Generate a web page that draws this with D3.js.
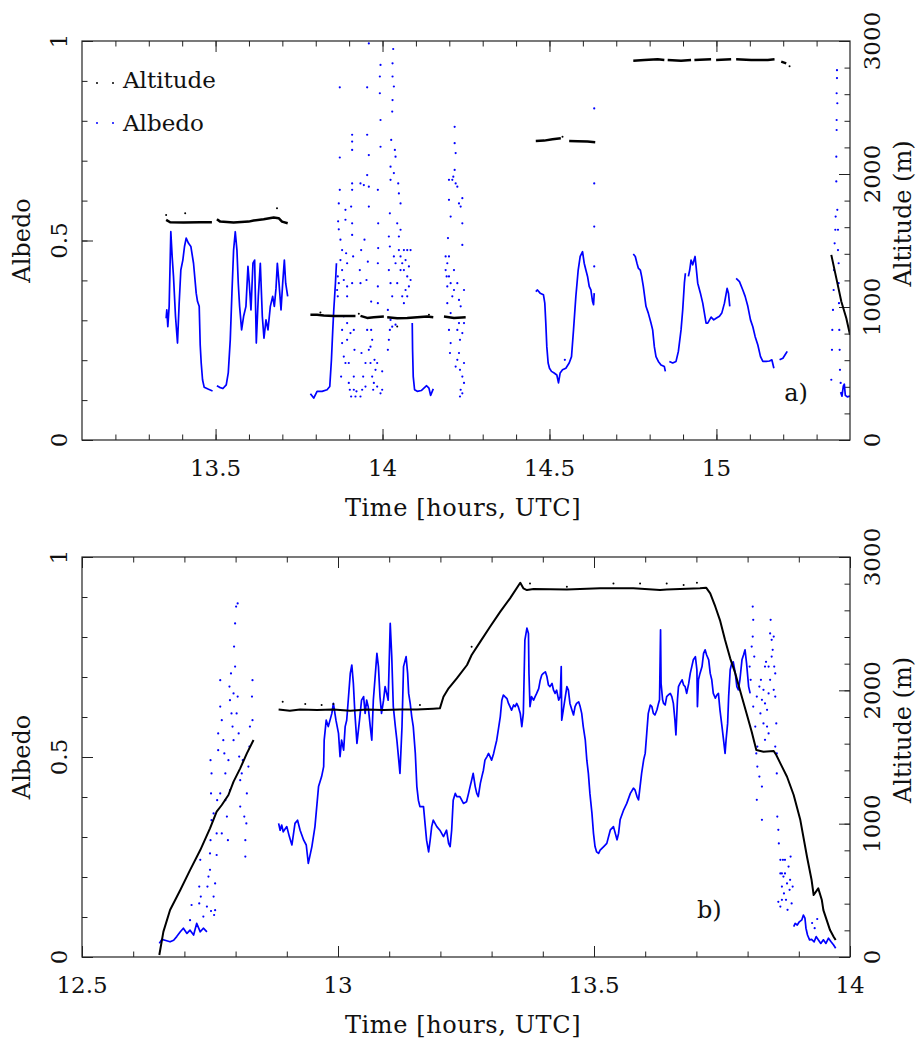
<!DOCTYPE html>
<html>
<head>
<meta charset="utf-8">
<script src="https://cdn.jsdelivr.net/npm/d3@7"></script>
<style>
  body { margin: 0; background: #fff; }
</style>
</head>
<body>
<svg id="chart" width="917" height="1040" font-family="'DejaVu Serif', serif"></svg>
<script>
// ---------- panel a) data : [time (h UTC), value] ----------
var altA = [
  [[13.352,1655],[13.364,1637],[13.404,1635],[13.454,1637],[13.489,1637]],
  [[13.504,1660],[13.514,1642],[13.554,1635],[13.599,1642],[13.614,1650],[13.644,1660],[13.674,1673],[13.689,1668],[13.699,1642],[13.716,1630]],
  [[13.784,941],[13.804,941],[13.824,936],[13.854,933],[13.884,933],[13.919,933]],
  [[13.934,933],[13.954,918],[13.974,923],[14.004,928]],
  [[14.014,923],[14.044,916],[14.074,918],[14.104,923],[14.134,928],[14.152,923]],
  [[14.184,928],[14.214,918],[14.249,923]],
  [[14.459,2248],[14.484,2251],[14.509,2261],[14.534,2269]],
  [[14.559,2248],[14.584,2246],[14.614,2244],[14.637,2239]],
  [[14.751,2852],[14.784,2857],[14.824,2862],[14.844,2857]],
  [[14.854,2857],[14.894,2852],[14.924,2857]],
  [[14.934,2857],[14.984,2862]],
  [[14.999,2857],[15.044,2862]],
  [[15.059,2862],[15.104,2857],[15.154,2857],[15.174,2862]],
  [[15.194,2845],[15.209,2832]]
];
var altDescentA = [[15.344,1392],[15.359,1217],[15.374,1041],[15.389,916],[15.400,791]];
var altDotsA = [[13.352,1692],[13.409,1705],[13.684,1743],[13.814,958],[13.929,949],[14.139,941],[14.044,853],[14.539,2281],[15.219,2810]];

var albA = [
  [[13.352,0.305],[13.354,0.326],[13.357,0.284],[13.361,0.335],[13.366,0.522],[13.370,0.460],[13.374,0.410],[13.380,0.310],[13.386,0.243],[13.391,0.343],[13.396,0.426],[13.402,0.451],[13.407,0.485],[13.412,0.506],[13.419,0.493],[13.426,0.485],[13.434,0.443],[13.442,0.368],[13.446,0.347],[13.451,0.335],[13.454,0.238],[13.457,0.193],[13.461,0.151],[13.466,0.132],[13.479,0.127],[13.491,0.123]],
  [[13.504,0.136],[13.512,0.132],[13.522,0.129],[13.532,0.138],[13.538,0.168],[13.544,0.251],[13.549,0.368],[13.554,0.476],[13.559,0.522],[13.564,0.476],[13.568,0.393],[13.572,0.335],[13.578,0.276],[13.584,0.310],[13.591,0.335],[13.597,0.435],[13.601,0.393],[13.606,0.326],[13.612,0.443],[13.617,0.451],[13.622,0.243],[13.628,0.360],[13.634,0.443],[13.640,0.310],[13.645,0.255],[13.651,0.301],[13.657,0.276],[13.664,0.335],[13.671,0.360],[13.676,0.335],[13.681,0.380],[13.685,0.443],[13.690,0.393],[13.696,0.326],[13.701,0.393],[13.706,0.451],[13.710,0.393],[13.716,0.360]],
  [[13.784,0.116],[13.794,0.105],[13.804,0.122],[13.819,0.122],[13.834,0.126],[13.842,0.134],[13.847,0.201],[13.851,0.276],[13.854,0.326],[13.859,0.393],[13.862,0.443]],
  [[14.089,0.293],[14.090,0.226],[14.092,0.159],[14.096,0.126],[14.104,0.122],[14.116,0.124],[14.124,0.130],[14.132,0.136],[14.139,0.130],[14.144,0.112],[14.152,0.128]],
  [[14.459,0.372],[14.464,0.376],[14.472,0.368],[14.482,0.364],[14.486,0.343],[14.489,0.293],[14.492,0.234],[14.496,0.193],[14.500,0.180],[14.506,0.172],[14.514,0.168],[14.522,0.163],[14.527,0.143],[14.532,0.168],[14.539,0.176],[14.549,0.180],[14.559,0.193],[14.566,0.209],[14.572,0.276],[14.579,0.360],[14.586,0.426],[14.592,0.460],[14.599,0.472],[14.604,0.443],[14.609,0.426],[14.614,0.410],[14.619,0.385],[14.624,0.376],[14.629,0.347],[14.632,0.339],[14.634,0.368]],
  [[14.751,0.466],[14.757,0.460],[14.762,0.443],[14.766,0.431],[14.772,0.426],[14.776,0.410],[14.781,0.385],[14.789,0.335],[14.796,0.318],[14.804,0.293],[14.809,0.276],[14.814,0.234],[14.819,0.209],[14.826,0.197],[14.834,0.188],[14.844,0.184],[14.847,0.172]],
  [[14.859,0.197],[14.869,0.193],[14.879,0.197],[14.886,0.222],[14.894,0.276],[14.899,0.326],[14.904,0.393],[14.907,0.418]],
  [[14.916,0.410],[14.920,0.426],[14.924,0.451],[14.929,0.439],[14.936,0.460],[14.939,0.435],[14.944,0.393],[14.952,0.368],[14.959,0.343],[14.964,0.318],[14.969,0.293],[14.974,0.293],[14.984,0.308],[14.992,0.301],[14.999,0.305],[15.009,0.310],[15.016,0.318],[15.024,0.343],[15.032,0.380],[15.036,0.368],[15.040,0.335]],
  [[15.059,0.405],[15.069,0.397],[15.079,0.376],[15.086,0.360],[15.094,0.335],[15.102,0.301],[15.109,0.284],[15.116,0.259],[15.124,0.238],[15.132,0.209],[15.139,0.197],[15.149,0.197],[15.159,0.198],[15.166,0.201],[15.172,0.180]],
  [[15.189,0.201],[15.199,0.205],[15.209,0.218],[15.212,0.222]],
  [[15.372,0.120],[15.376,0.110],[15.380,0.135],[15.383,0.140],[15.386,0.112],[15.392,0.108],[15.400,0.110]]
];
var albDotsA = [
  // cloud 13.86-13.92
  [13.872,0.884],[13.872,0.708],[13.872,0.627],[13.869,0.593],[13.867,0.548],[13.869,0.528],[13.874,0.502],[13.879,0.476],[13.866,0.410],[13.869,0.393],[13.864,0.376],[13.866,0.360],[13.874,0.451],[13.879,0.426],[13.884,0.401],[13.889,0.577],[13.889,0.552],[13.891,0.468],[13.894,0.443],[13.894,0.385],[13.894,0.360],[13.909,0.765],[13.909,0.748],[13.909,0.727],[13.909,0.643],[13.909,0.627],[13.906,0.585],[13.909,0.543],[13.909,0.514],[13.912,0.460],[13.909,0.393],[13.879,0.276],[13.879,0.243],[13.884,0.209],[13.889,0.193],[13.876,0.159],[13.894,0.251],[13.899,0.193],[13.902,0.126],[13.906,0.109],[13.914,0.126],[13.914,0.159],[13.919,0.109],[13.894,0.293],[13.904,0.268],[13.914,0.276],[13.916,0.226],[13.884,0.310],[13.899,0.143],[13.922,0.122],
  // cloud 13.93-14.00
  [13.959,0.994],[13.954,0.884],[13.954,0.765],[13.959,0.714],[13.954,0.664],[13.959,0.635],[13.944,0.639],[13.934,0.643],[13.959,0.585],[13.946,0.502],[13.936,0.476],[13.956,0.447],[13.952,0.401],[13.932,0.426],[13.934,0.393],[13.986,0.627],[13.987,0.543],[13.987,0.481],[13.986,0.443],[13.986,0.385],[13.986,0.343],[13.966,0.347],[13.966,0.276],[13.969,0.251],[13.959,0.226],[13.964,0.193],[13.969,0.159],[13.974,0.143],[13.979,0.176],[13.984,0.193],[13.949,0.193],[13.942,0.159],[13.939,0.126],[13.949,0.134],[13.937,0.218],[13.934,0.109],[13.994,0.117],[13.999,0.126],[13.999,0.172],[13.994,0.940],[13.992,0.911],[13.992,0.869],[13.994,0.802],[13.994,0.735],[13.972,0.126],[13.954,0.276],[13.964,0.234],[13.984,0.134],[13.976,0.201],
  // cloud 14.01-14.09
  [14.032,0.980],[14.030,0.944],[14.030,0.911],[14.034,0.886],[14.030,0.852],[14.029,0.823],[14.026,0.752],[14.037,0.727],[14.039,0.710],[14.024,0.685],[14.034,0.669],[14.047,0.643],[14.024,0.652],[14.049,0.618],[14.054,0.593],[14.022,0.568],[14.044,0.543],[14.054,0.527],[14.049,0.510],[14.019,0.510],[14.022,0.485],[14.034,0.460],[14.039,0.443],[14.049,0.476],[14.054,0.460],[14.064,0.476],[14.074,0.476],[14.084,0.476],[14.054,0.426],[14.064,0.426],[14.074,0.410],[14.084,0.401],[14.079,0.385],[14.069,0.376],[14.059,0.360],[14.074,0.360],[14.064,0.343],[14.019,0.426],[14.024,0.393],[14.029,0.360],[14.016,0.326],[14.022,0.276],[14.019,0.251],[14.016,0.226],[14.029,0.284],[14.039,0.289],[14.024,0.301],[14.044,0.393],[14.059,0.443],[14.069,0.451],[14.079,0.435],
  // cloud 14.19-14.25
  [14.216,0.785],[14.216,0.744],[14.219,0.719],[14.216,0.677],[14.212,0.660],[14.209,0.652],[14.219,0.643],[14.224,0.635],[14.199,0.652],[14.199,0.602],[14.204,0.560],[14.196,0.506],[14.239,0.606],[14.229,0.593],[14.234,0.585],[14.239,0.543],[14.239,0.489],[14.189,0.460],[14.194,0.443],[14.199,0.410],[14.189,0.426],[14.204,0.393],[14.214,0.376],[14.224,0.393],[14.229,0.351],[14.234,0.335],[14.244,0.376],[14.209,0.360],[14.194,0.343],[14.204,0.318],[14.199,0.276],[14.204,0.243],[14.224,0.276],[14.232,0.251],[14.239,0.268],[14.202,0.218],[14.229,0.218],[14.224,0.201],[14.219,0.184],[14.232,0.176],[14.239,0.159],[14.244,0.143],[14.234,0.126],[14.232,0.109],[14.239,0.117],[14.244,0.193],[14.194,0.385],[14.214,0.426],[14.199,0.460],[14.229,0.293],[14.244,0.293],[14.192,0.410],
  // isolated
  [14.634,0.831],[14.634,0.643],[14.634,0.535],[14.634,0.435],[14.546,0.201],
  // burst near 15.35
  [15.344,0.151],[15.346,0.226],[15.347,0.276],[15.349,0.326],[15.351,0.376],[15.352,0.426],[15.354,0.493],[15.356,0.527],[15.357,0.560],[15.359,0.648],[15.359,0.710],[15.360,0.777],[15.360,0.802],[15.360,0.869],[15.361,0.907],[15.361,0.927],[15.362,0.844],[15.362,0.577],[15.364,0.527],[15.364,0.476],[15.366,0.443],[15.366,0.393],[15.367,0.343],[15.368,0.276],[15.369,0.226],[15.370,0.176],[15.372,0.143]
];

// ---------- panel b) data ----------
var altB = [
  [[12.651,15],[12.659,190],[12.672,352],[12.692,502],[12.711,652],[12.731,802],[12.750,965],[12.763,1090],[12.773,1140],[12.786,1215],[12.796,1315],[12.809,1415],[12.822,1527],[12.835,1627]],
  [[12.884,1857],[12.906,1847],[12.926,1857],[12.959,1852],[12.991,1857],[13.024,1847],[13.056,1857],[13.089,1852],[13.121,1857],[13.154,1857],[13.186,1862],[13.199,1865],[13.206,1952],[13.216,2015],[13.232,2090],[13.252,2190],[13.261,2265],[13.278,2365],[13.297,2477],[13.317,2590],[13.336,2690],[13.356,2807],[13.362,2765],[13.369,2752],[13.382,2760],[13.447,2757],[13.512,2765],[13.577,2765],[13.629,2752],[13.642,2757],[13.707,2765],[13.719,2770],[13.727,2727],[13.737,2627],[13.746,2527],[13.756,2377],[13.766,2240],[13.776,2127],[13.785,2002],[13.798,1827],[13.808,1690],[13.817,1552],[13.831,1540],[13.851,1545],[13.856,1515],[13.864,1452],[13.877,1352],[13.890,1215],[13.903,1027],[13.916,752],[13.925,577],[13.929,465],[13.938,515],[13.945,427],[13.948,352],[13.961,202],[13.968,152],[13.972,127]]
];
var altDotsB = [[12.892,1915],[12.936,1897],[12.968,1890],[12.991,1897],[13.160,1890],[13.261,2327],[13.375,2802],[13.447,2777],[13.538,2802],[13.590,2802],[13.642,2802],[13.675,2790],[13.701,2807]];

var albB = [
  [[12.651,0.034],[12.656,0.044],[12.662,0.042],[12.672,0.038],[12.679,0.042],[12.685,0.051],[12.692,0.063],[12.698,0.072],[12.705,0.059],[12.711,0.067],[12.718,0.055],[12.724,0.084],[12.731,0.063],[12.737,0.072],[12.744,0.063]],
  [[12.884,0.334],[12.887,0.317],[12.890,0.330],[12.893,0.313],[12.900,0.326],[12.905,0.301],[12.910,0.280],[12.916,0.334],[12.921,0.342],[12.926,0.317],[12.933,0.292],[12.938,0.280],[12.942,0.234],[12.949,0.276],[12.955,0.326],[12.962,0.426],[12.968,0.451],[12.972,0.476],[12.973,0.542],[12.977,0.592],[12.981,0.576],[12.988,0.609],[12.991,0.634],[12.996,0.592],[13.001,0.559],[13.004,0.501],[13.007,0.542],[13.011,0.517],[13.014,0.576],[13.017,0.592],[13.020,0.642],[13.024,0.709],[13.027,0.730],[13.030,0.684],[13.033,0.609],[13.037,0.534],[13.042,0.592],[13.046,0.642],[13.050,0.651],[13.053,0.609],[13.056,0.642],[13.059,0.626],[13.063,0.576],[13.066,0.542],[13.069,0.642],[13.072,0.692],[13.076,0.759],[13.079,0.726],[13.082,0.651],[13.085,0.609],[13.089,0.642],[13.092,0.676],[13.095,0.659],[13.098,0.642],[13.102,0.834],[13.105,0.751],[13.108,0.626],[13.112,0.576],[13.115,0.542],[13.118,0.501],[13.121,0.459],[13.125,0.576],[13.128,0.726],[13.133,0.751],[13.136,0.709],[13.138,0.659],[13.141,0.634],[13.144,0.601],[13.147,0.576],[13.151,0.509],[13.154,0.426],[13.157,0.392],[13.160,0.376],[13.167,0.376],[13.170,0.334],[13.173,0.292],[13.177,0.263],[13.180,0.292],[13.183,0.326],[13.186,0.342],[13.193,0.326],[13.199,0.317],[13.206,0.301],[13.212,0.317],[13.216,0.284],[13.219,0.276],[13.222,0.317],[13.225,0.392],[13.229,0.409],[13.232,0.401],[13.238,0.401],[13.245,0.384],[13.251,0.388],[13.255,0.409],[13.258,0.426],[13.261,0.442],[13.264,0.459],[13.268,0.426],[13.271,0.409],[13.274,0.401],[13.278,0.434],[13.281,0.451],[13.284,0.467],[13.287,0.492],[13.291,0.501],[13.294,0.509],[13.297,0.501],[13.300,0.492],[13.304,0.509],[13.307,0.526],[13.310,0.542],[13.313,0.567],[13.317,0.601],[13.320,0.642],[13.323,0.655],[13.326,0.651],[13.330,0.646],[13.333,0.634],[13.336,0.626],[13.339,0.617],[13.343,0.630],[13.346,0.626],[13.349,0.634],[13.352,0.626],[13.356,0.609],[13.359,0.576],[13.362,0.609],[13.365,0.792],[13.369,0.822],[13.372,0.809],[13.373,0.709],[13.375,0.626],[13.378,0.651],[13.382,0.642],[13.385,0.651],[13.388,0.659],[13.392,0.671],[13.395,0.692],[13.398,0.705],[13.401,0.709],[13.405,0.713],[13.408,0.701],[13.411,0.680],[13.414,0.676],[13.418,0.684],[13.421,0.667],[13.424,0.659],[13.427,0.667],[13.431,0.642],[13.434,0.651],[13.436,0.726],[13.437,0.592],[13.440,0.617],[13.444,0.651],[13.447,0.676],[13.450,0.667],[13.453,0.634],[13.457,0.617],[13.460,0.605],[13.463,0.626],[13.466,0.634],[13.470,0.638],[13.473,0.626],[13.476,0.609],[13.479,0.576],[13.483,0.542],[13.486,0.492],[13.489,0.459],[13.492,0.409],[13.496,0.359],[13.499,0.309],[13.502,0.276],[13.505,0.263],[13.509,0.259],[13.512,0.267],[13.519,0.276],[13.525,0.284],[13.532,0.318],[13.538,0.326],[13.545,0.293],[13.548,0.309],[13.551,0.343],[13.558,0.368],[13.564,0.384],[13.571,0.409],[13.577,0.422],[13.580,0.418],[13.584,0.401],[13.587,0.393],[13.590,0.426],[13.593,0.459],[13.597,0.493],[13.600,0.509],[13.603,0.559],[13.606,0.609],[13.610,0.630],[13.613,0.626],[13.616,0.609],[13.619,0.605],[13.623,0.618],[13.626,0.634],[13.628,0.643],[13.630,0.818],[13.631,0.684],[13.634,0.643],[13.636,0.634],[13.639,0.630],[13.642,0.651],[13.645,0.655],[13.649,0.659],[13.652,0.651],[13.655,0.634],[13.658,0.593],[13.660,0.555],[13.663,0.643],[13.665,0.676],[13.668,0.684],[13.672,0.693],[13.675,0.680],[13.678,0.676],[13.681,0.659],[13.685,0.684],[13.688,0.709],[13.691,0.726],[13.694,0.743],[13.698,0.751],[13.701,0.718],[13.702,0.626],[13.704,0.693],[13.707,0.709],[13.711,0.726],[13.714,0.759],[13.717,0.768],[13.720,0.755],[13.724,0.743],[13.727,0.709],[13.730,0.693],[13.733,0.659],[13.737,0.647],[13.740,0.655],[13.743,0.659],[13.746,0.618],[13.750,0.576],[13.753,0.543],[13.756,0.509],[13.758,0.543],[13.761,0.584],[13.763,0.651],[13.766,0.718],[13.769,0.734],[13.772,0.738],[13.776,0.709],[13.779,0.676],[13.782,0.668],[13.785,0.693],[13.789,0.743],[13.792,0.755],[13.795,0.768],[13.798,0.734],[13.802,0.676],[13.805,0.659]],
  [[13.890,0.076],[13.893,0.084],[13.897,0.080],[13.901,0.088],[13.906,0.093],[13.909,0.105],[13.912,0.097],[13.914,0.072],[13.917,0.055],[13.921,0.043],[13.925,0.044],[13.930,0.038],[13.934,0.051],[13.938,0.043],[13.943,0.034],[13.948,0.043],[13.953,0.034],[13.958,0.047],[13.963,0.038],[13.968,0.030],[13.972,0.022]]
];
var albDotsB = [
  // climb cloud 12.71-12.84
  [12.711,0.092],[12.714,0.130],[12.729,0.176],[12.729,0.134],[12.731,0.243],[12.732,0.151],[12.745,0.176],[12.747,0.201],[12.750,0.218],[12.750,0.259],[12.751,0.292],[12.753,0.342],[12.752,0.409],[12.753,0.459],[12.751,0.492],[12.757,0.151],[12.760,0.117],[12.760,0.184],[12.763,0.255],[12.763,0.309],[12.764,0.392],[12.766,0.517],[12.766,0.559],[12.770,0.626],[12.770,0.692],[12.773,0.592],[12.776,0.542],[12.778,0.509],[12.780,0.459],[12.780,0.392],[12.783,0.351],[12.785,0.292],[12.786,0.492],[12.788,0.676],[12.789,0.642],[12.791,0.709],[12.792,0.609],[12.794,0.576],[12.796,0.542],[12.797,0.776],[12.799,0.834],[12.801,0.876],[12.804,0.884],[12.799,0.726],[12.804,0.651],[12.806,0.559],[12.807,0.501],[12.809,0.442],[12.809,0.376],[12.812,0.459],[12.814,0.492],[12.817,0.351],[12.819,0.292],[12.819,0.251],[12.821,0.334],[12.822,0.409],[12.825,0.476],[12.827,0.526],[12.828,0.576],[12.832,0.651],[12.833,0.692],[12.833,0.592],[12.796,0.659],[12.802,0.609],[12.770,0.409],[12.773,0.309],[12.789,0.417],[12.757,0.359],[12.744,0.126],[12.737,0.101],[12.752,0.115],[12.758,0.105],
  // scattered 13.80-13.86
  [13.810,0.876],[13.811,0.843],[13.808,0.776],[13.813,0.751],[13.804,0.726],[13.806,0.693],[13.811,0.626],[13.818,0.651],[13.825,0.609],[13.828,0.643],[13.831,0.668],[13.834,0.634],[13.838,0.618],[13.841,0.659],[13.844,0.693],[13.844,0.809],[13.845,0.843],[13.847,0.793],[13.849,0.768],[13.851,0.801],[13.847,0.751],[13.852,0.726],[13.854,0.709],[13.851,0.668],[13.856,0.584],[13.854,0.526],[13.857,0.509],[13.819,0.526],[13.817,0.509],[13.819,0.476],[13.823,0.451],[13.818,0.393],[13.828,0.426],[13.828,0.343],[13.815,0.576],[13.831,0.584],[13.838,0.576],[13.834,0.543],[13.841,0.559],[13.826,0.693],[13.823,0.676],[13.810,0.801],[13.836,0.738],[13.834,0.726],[13.841,0.726],[13.857,0.459],[13.854,0.651],
  // descent 13.86-13.89
  [13.858,0.351],[13.860,0.318],[13.861,0.284],[13.864,0.243],[13.864,0.209],[13.867,0.176],[13.869,0.243],[13.870,0.201],[13.871,0.159],[13.873,0.209],[13.875,0.143],[13.877,0.184],[13.880,0.226],[13.882,0.168],[13.883,0.193],[13.884,0.251],[13.886,0.134],[13.888,0.176],[13.864,0.126],[13.867,0.143],[13.878,0.118],[13.860,0.138],[13.867,0.209],[13.873,0.243],[13.926,0.085],[13.931,0.072],[13.936,0.095]
];

// ---------- layout / ticks ----------
var panels = [
  {name: "a)", xDomain: [13.1, 15.4], top: 41, bottom: 440,
   xMajor: [13.5, 14, 14.5, 15], xLabels: ["13.5", "14", "14.5", "15"],
   alt: altA, altDots: altDotsA, altLine: altDescentA, alb: albA, albDots: albDotsA, tag: [15.203, 0.098]},
  {name: "b)", xDomain: [12.5, 14], top: 557, bottom: 957,
   xMajor: [12.5, 13, 13.5, 14], xLabels: ["12.5", "13", "13.5", "14"],
   alt: altB, altDots: altDotsB, altLine: null, alb: albB, albDots: albDotsB, tag: [13.701, 0.0975]}
];
var albedoMajor = [0, 0.5, 1], albedoLabels = ["0", "0.5", "1"];
var altMajor = [0, 1000, 2000, 3000], altLabels = ["0", "1000", "2000", "3000"];

var left = 82, right = 850;
var font = "'DejaVu Serif', serif";
var svg = d3.select("#chart");
svg.append("rect").attr("width", 917).attr("height", 1040).attr("fill", "#fff");

panels.forEach(function(p, i) {
    var x = d3.scaleLinear().domain(p.xDomain).range([left, right]);
    var y = d3.scaleLinear().domain([0, 1]).range([p.bottom, p.top]);
    var yAlt = d3.scaleLinear().domain([0, 3000]).range([p.bottom, p.top]);
    var h = p.bottom - p.top;
    var g = svg.append("g").attr("font-family", font).attr("fill", "#111");

    var clipId = "clip" + i;
    svg.append("clipPath").attr("id", clipId).append("rect")
        .attr("x", left).attr("y", p.top).attr("width", right - left).attr("height", h);

    // ticks, all pointing inward (minor 0.1 h / 0.1 / 200 m)
    var xMinor = d3.range(Math.round(p.xDomain[0] * 10) + 1, Math.round(p.xDomain[1] * 10)).map(function(d) { return d / 10; });
    var axes = [
        [d3.axisBottom(x).tickValues(xMinor).tickSize(-5.5), "translate(0," + p.bottom + ")"],
        [d3.axisBottom(x).tickValues(p.xMajor).tickSize(-11), "translate(0," + p.bottom + ")"],
        [d3.axisTop(x).tickValues(xMinor).tickSize(-5.5), "translate(0," + p.top + ")"],
        [d3.axisTop(x).tickValues(p.xMajor).tickSize(-11), "translate(0," + p.top + ")"],
        [d3.axisLeft(y).tickValues(d3.range(1, 10).map(function(d) { return d / 10; })).tickSize(-5.5), "translate(" + left + ",0)"],
        [d3.axisLeft(y).tickValues(albedoMajor).tickSize(-11), "translate(" + left + ",0)"],
        [d3.axisRight(yAlt).tickValues(d3.range(200, 3000, 200)).tickSize(-5.5), "translate(" + right + ",0)"],
        [d3.axisRight(yAlt).tickValues(altMajor).tickSize(-11), "translate(" + right + ",0)"]
    ];
    axes.forEach(function(a) {
        var ax = g.append("g").attr("transform", a[1])
            .call(a[0].tickFormat("").tickSizeOuter(0));
        ax.select(".domain").remove();
        ax.selectAll("line").attr("stroke", "#222").attr("stroke-width", 1);
    });

    var plot = g.append("g").attr("clip-path", "url(#" + clipId + ")");

    var lineAlb = d3.line().x(function(d) { return x(d[0]); }).y(function(d) { return y(d[1]); });
    var lineAlt = d3.line().x(function(d) { return x(d[0]); }).y(function(d) { return yAlt(d[1]); });

    // albedo (blue)
    plot.selectAll(".alb").data(p.alb).enter().append("path")
        .attr("d", lineAlb).attr("fill", "none")
        .attr("stroke", "#0000ff").attr("stroke-width", 1.7).attr("stroke-linejoin", "round");
    plot.selectAll(".albdot").data(p.albDots).enter().append("circle")
        .attr("cx", function(d) { return x(d[0]); })
        .attr("cy", function(d) { return y(d[1]); })
        .attr("r", 1.1).attr("fill", "#0000ff");

    // altitude (black)
    plot.selectAll(".alt").data(p.alt).enter().append("path")
        .attr("d", lineAlt).attr("fill", "none")
        .attr("stroke", "#000").attr("stroke-width", i === 0 ? 2.5 : 2)
        .attr("stroke-linejoin", "round");
    if (p.altLine) {
        plot.append("path").datum(p.altLine).attr("d", lineAlt)
            .attr("fill", "none").attr("stroke", "#000").attr("stroke-width", 2);
    }
    plot.selectAll(".altdot").data(p.altDots).enter().append("circle")
        .attr("cx", function(d) { return x(d[0]); })
        .attr("cy", function(d) { return yAlt(d[1]); })
        .attr("r", 1).attr("fill", "#000");

    // frame
    g.append("rect").attr("x", left).attr("y", p.top)
        .attr("width", right - left).attr("height", h)
        .attr("fill", "none").attr("stroke", "#222").attr("stroke-width", 1.2);

    // tick labels
    g.selectAll(".xl").data(p.xMajor).enter().append("text")
        .attr("x", function(d) { return x(d); }).attr("y", p.bottom + 36)
        .attr("text-anchor", "middle").attr("font-size", 23)
        .text(function(d, k) { return p.xLabels[k]; });
    g.selectAll(".yl").data(albedoMajor).enter().append("text")
        .attr("transform", function(d) { return "translate(67," + y(d) + ") rotate(-90)"; })
        .attr("text-anchor", "middle").attr("font-size", 23)
        .text(function(d, k) { return albedoLabels[k]; });
    g.selectAll(".yr").data(altMajor).enter().append("text")
        .attr("transform", function(d) { return "translate(880," + yAlt(d) + ") rotate(-90)"; })
        .attr("text-anchor", "middle").attr("font-size", 23)
        .text(function(d, k) { return altLabels[k]; });

    // axis titles
    g.append("text").attr("x", 463).attr("y", p.bottom + 76)
        .attr("text-anchor", "middle").attr("font-size", 24).attr("letter-spacing", 0.6)
        .text("Time [hours, UTC]");
    g.append("text").attr("transform", "translate(30," + (p.top + h / 2) + ") rotate(-90)")
        .attr("text-anchor", "middle").attr("font-size", 24).text("Albedo");
    g.append("text").attr("transform", "translate(911," + (p.top + h / 2 - 27) + ") rotate(-90)")
        .attr("text-anchor", "middle").attr("font-size", 24).text("Altitude (m)");

    g.append("text").attr("x", x(p.tag[0])).attr("y", y(p.tag[1]))
        .attr("font-size", 24).text(p.name);

    // legend (panel a only)
    if (i === 0) {
        var legend = [["Altitude", "#000", 83, 88], ["Albedo", "#0000ff", 123, 131]];
        legend.forEach(function(l) {
            [97, 113].forEach(function(cx) {
                g.append("circle").attr("cx", cx).attr("cy", l[2]).attr("r", 1).attr("fill", l[1]);
            });
            g.append("text").attr("x", 123).attr("y", l[3]).attr("font-size", 23).text(l[0]);
        });
    }
});
</script>
</body>
</html>
